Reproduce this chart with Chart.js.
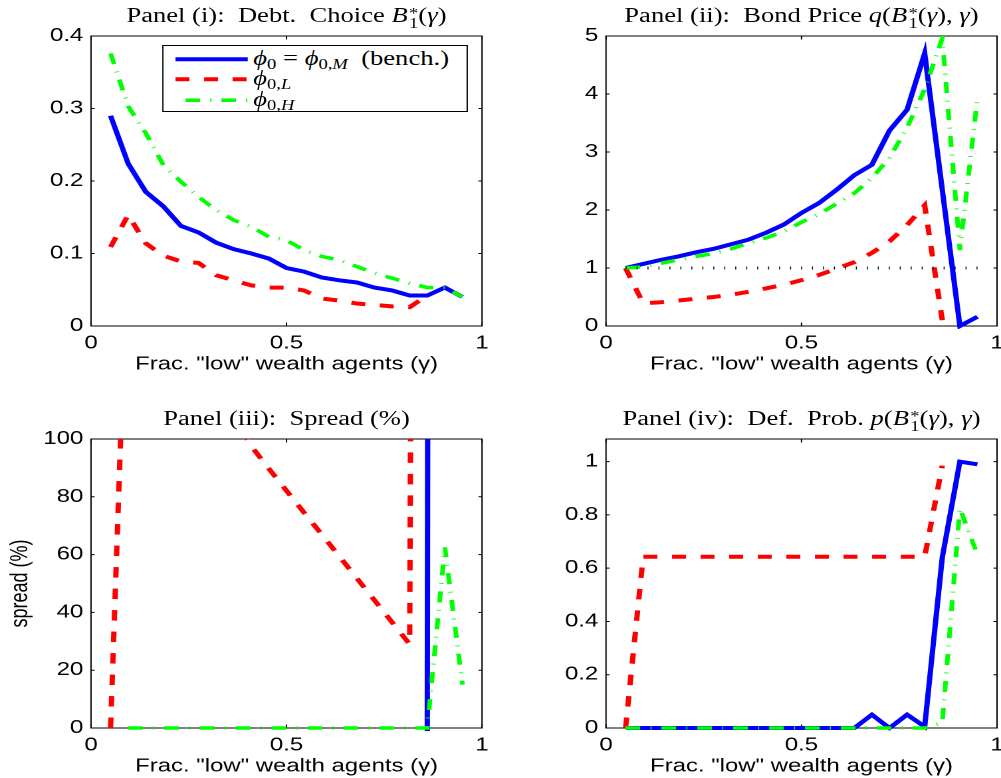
<!DOCTYPE html>
<html>
<head>
<meta charset="utf-8">
<script src="https://cdn.jsdelivr.net/npm/chart.js@4.4.1/dist/chart.umd.min.js"></script>
<style>
  html, body { margin: 0; padding: 0; background: #fff; overflow: hidden; }
  #wrap { position: absolute; left: 0; top: 0; width: 753px; height: 778px;
          transform: scaleX(1.329349); transform-origin: 0 0; }
  #wrap canvas { position: absolute; left: 0; top: 0; }
  .ttl { position: absolute; font-family: "Liberation Serif", serif; font-size: 20px;
         line-height: 20px; white-space: nowrap; text-align: center; color: #000; }
  .st { display: inline-block; font-size: 14px; line-height: 10px; vertical-align: -6px;
        text-align: left; margin-left: 1px; }
  .st span { display: block; }
  .sb { font-size: 14px; vertical-align: -4px; }
  #legend { position: absolute; box-sizing: border-box; border: 1px solid #000; background: #fff; }
  #legend svg { position: absolute; left: 0; top: 0; }
  .row { position: absolute; font-family: "Liberation Serif", serif; font-size: 20px;
         line-height: 20px; white-space: nowrap; color: #000; }
</style>
</head>
<body>
<div id="wrap">
  <canvas id="c1" width="753" height="778"></canvas>
  <canvas id="c2" width="753" height="778"></canvas>
  <canvas id="c3" width="753" height="778"></canvas>
  <canvas id="c4" width="753" height="778"></canvas>
  <div class="ttl" id="t1">Panel (i):&nbsp; Debt.&nbsp; Choice <i>B</i><span class="st"><span>*</span><span>1</span></span>(<i>γ</i>)</div>
  <div class="ttl" id="t2">Panel (ii):&nbsp; Bond Price <i>q</i>(<i>B</i><span class="st"><span>*</span><span>1</span></span>(<i>γ</i>), <i>γ</i>)</div>
  <div class="ttl" id="t3">Panel (iii):&nbsp; Spread (%)</div>
  <div class="ttl" id="t4">Panel (iv):&nbsp; Def.&nbsp; Prob. <i>p</i>(<i>B</i><span class="st"><span>*</span><span>1</span></span>(<i>γ</i>), <i>γ</i>)</div>
  <div id="legend">
    <svg id="lsvg" width="230" height="66"></svg>
    <div class="row" id="r1"><i>ϕ</i><span class="sb">0</span> = <i>ϕ</i><span class="sb">0,<i>M</i></span>&nbsp; (bench.)</div>
    <div class="row" id="r2"><i>ϕ</i><span class="sb">0,<i>L</i></span></div>
    <div class="row" id="r3"><i>ϕ</i><span class="sb">0,<i>H</i></span></div>
  </div>
</div>
<script>
// ---- data ----
const gamma = [0.05, 0.095, 0.14, 0.185, 0.23, 0.275, 0.32, 0.365, 0.41, 0.455, 0.5,
               0.545, 0.59, 0.635, 0.68, 0.725, 0.77, 0.815, 0.86, 0.905, 0.95];

// Panel (i): debt choice
const debtBench = [0.290, 0.224, 0.185, 0.165, 0.138, 0.129, 0.115, 0.106, 0.100, 0.093, 0.080,
                   0.075, 0.067, 0.063, 0.060, 0.053, 0.049, 0.042, 0.042, 0.053, 0.040];
const debtLow   = [0.109, 0.153, 0.114, 0.097, 0.089, 0.087, 0.070, 0.063, 0.056, 0.053, 0.053,
                   0.049, 0.038, 0.035, 0.031, 0.029, 0.027, 0.026, 0.042, null, null];
const debtHigh  = [0.376, 0.303, 0.266, 0.222, 0.199, 0.178, 0.160, 0.146, 0.137, 0.123, 0.118,
                   0.105, 0.096, 0.091, 0.082, 0.073, 0.066, 0.059, 0.053, 0.053, 0.040];

// Panel (ii): bond price
const priceBench = [1.00, 1.07, 1.14, 1.20, 1.27, 1.33, 1.41, 1.49, 1.61, 1.75, 1.95,
                    2.12, 2.35, 2.60, 2.78, 3.37, 3.73, 4.70, 2.35, 0.00, 0.16];
const priceLow   = [1.00, 0.39, 0.41, 0.44, 0.47, 0.50, 0.54, 0.59, 0.65, 0.71, 0.79,
                    0.88, 0.99, 1.10, 1.26, 1.46, 1.74, 2.08, 0.10, null, null];
const priceHigh  = [1.00, 1.02, 1.08, 1.14, 1.20, 1.25, 1.33, 1.43, 1.52, 1.63, 1.79,
                    1.93, 2.11, 2.29, 2.55, 2.90, 3.42, 4.08, 4.96, 1.31, 3.93];
const riskFree   = [1, 1, 1, 1, 1, 1, 1, 1, 1, 1, 1, 1, 1, 1, 1, 1, 1, 1, 1, 1, 1];

// Panel (iii): spread (%), values outside 0..100 are cut by the axes
const spreadBench = [-10, -15, -20, -25, -30, -35, -40, -45, -50, -55, -60,
                     -65, -70, -75, -80, -85, -90, -95, -5, 5000, 600];
const spreadLow   = [0, 175, 160, 148, 137, 128, 118, 108, 97.5, 89.7, 82.1,
                     74.5, 67, 59.4, 51.8, 44.2, 36.6, 29, 1500, null, null];
const spreadHigh  = [null, 0, 0, 0, 0, 0, 0, 0, 0, 0, 0,
                     0, 0, 0, 0, 0, 0, 0, 0, 62.5, 15];

// Panel (iv): default probability
const probBench = [0, 0, 0, 0, 0, 0, 0, 0, 0, 0, 0,
                   0, 0, 0, 0.05, 0, 0.05, 0.005, 0.64, 1.0, 0.99];
const probLow   = [0, 0.643, 0.643, 0.643, 0.643, 0.643, 0.643, 0.643, 0.643, 0.643, 0.643,
                   0.643, 0.643, 0.643, 0.643, 0.643, 0.643, 0.643, 0.985, null, null];
const probHigh  = [0, 0, 0, 0, 0, 0, 0, 0, 0, 0, 0,
                   0, 0, 0, 0, 0, 0, 0, 0.02, 0.825, 0.65];

// axes
const xTicks = [0, 0.5, 1];
const debtTicks = [0, 0.1, 0.2, 0.3, 0.4];
const priceTicks = [0, 1, 2, 3, 4, 5];
const spreadTicks = [0, 20, 40, 60, 80, 100];
const probTicks = [0, 0.2, 0.4, 0.6, 0.8, 1];
const debtRange = [0, 0.4];
const priceRange = [0, 5];
const spreadRange = [0, 100];
const probRange = [0, 1.085];
const xLabel = 'Frac. "low" wealth agents (γ)';

// ---- styles / layout ----
const S = 1001 / 753;          // whole figure is stretched horizontally
const px = v => v / S;
const W = 753, H = 778;
const XH = 50;                 // height of x axis band (tick labels + title)

const styles = {
  bench: { borderColor: '#0000ff', borderWidth: 4, borderDash: [], order: 4 },
  low:   { borderColor: '#ff0000', borderWidth: 4, borderDash: [10.5, 11], order: 3 },
  high:  { borderColor: '#00ff00', borderWidth: 3.5, borderDash: [11, 7.7, 0.8, 7.5], order: 2 },
  ref:   { borderColor: '#000000', borderWidth: 3, borderDash: [0.75, 7.5], order: 1 },
};

const sans = { family: '"Liberation Sans", Arial, sans-serif', size: 18 };

// axes box + inward tick marks, drawn under the lines like MATLAB
const frame = {
  id: 'frame',
  beforeDatasetsDraw(chart) {
    const { ctx, chartArea: a, scales: { x, y } } = chart;
    ctx.save();
    ctx.strokeStyle = '#000';
    ctx.lineWidth = 1;
    ctx.strokeRect(a.left, a.top, a.right - a.left, a.bottom - a.top);
    ctx.beginPath();
    x.ticks.forEach(t => {
      const p = x.getPixelForValue(t.value);
      ctx.moveTo(p, a.bottom); ctx.lineTo(p, a.bottom - 3.5);
      ctx.moveTo(p, a.top); ctx.lineTo(p, a.top + 3.5);
    });
    y.ticks.forEach(t => {
      const p = y.getPixelForValue(t.value);
      ctx.moveTo(a.left, p); ctx.lineTo(a.left + 2.7, p);
      ctx.moveTo(a.right, p); ctx.lineTo(a.right - 2.7, p);
    });
    ctx.stroke();
    ctx.restore();
  }
};

function pts(vals) {
  return gamma.map((g, i) => ({ x: g, y: vals[i] }));
}

function panel(id, box, range, yTicks, series, yTitle) {
  const datasets = series.map(([vals, st]) => Object.assign({
    data: pts(vals), pointRadius: 0, tension: 0, fill: false,
    borderCapStyle: 'butt', clip: { left: 3, right: 3, top: 0, bottom: 3 },
  }, st));
  new Chart(document.getElementById(id), {
    type: 'line',
    data: { datasets },
    options: {
      responsive: false,
      animation: false,
      devicePixelRatio: 2,
      events: [],
      layout: { padding: { left: 0, right: W - px(box.r), top: box.t, bottom: H - box.b - XH } },
      plugins: { legend: { display: false }, tooltip: { enabled: false } },
      scales: {
        x: {
          type: 'linear', min: 0, max: 1,
          grid: { display: false, drawTicks: false },
          border: { display: false },
          afterBuildTicks: s => { s.ticks = xTicks.map(v => ({ value: v })); },
          afterFit: s => { s.height = XH; s.paddingLeft = 0; s.paddingRight = 0; },
          ticks: { autoSkip: false, maxRotation: 0, padding: 6.5, color: '#000', font: sans,
                   callback: v => String(v) },
          title: { display: true, text: xLabel, color: '#000', font: sans,
                   padding: { top: 0, bottom: 0.6 } },
        },
        y: {
          type: 'linear', min: range[0], max: range[1],
          grid: { display: false, drawTicks: false },
          border: { display: false },
          afterBuildTicks: s => { s.ticks = yTicks.map(v => ({ value: v })); },
          afterFit: s => { s.width = px(box.l); s.paddingTop = 0; s.paddingBottom = 0; },
          ticks: { autoSkip: false, padding: 5.8, color: '#000', font: sans,
                   callback: v => String(v) },
          title: { display: !!yTitle, text: yTitle || '', color: '#000', font: sans,
                   padding: { top: 4.6, bottom: 0 } },
        },
      },
    },
    plugins: [frame],
  });
}

const boxes = {
  c1: { l: 91, r: 482, t: 36, b: 326 },
  c2: { l: 606, r: 997, t: 36, b: 326 },
  c3: { l: 91, r: 482, t: 439, b: 728 },
  c4: { l: 606, r: 997, t: 439, b: 728 },
};

panel('c1', boxes.c1, debtRange, debtTicks,
      [[debtBench, styles.bench], [debtLow, styles.low], [debtHigh, styles.high]]);
panel('c2', boxes.c2, priceRange, priceTicks,
      [[priceBench, styles.bench], [priceLow, styles.low], [priceHigh, styles.high], [riskFree, styles.ref]]);
panel('c3', boxes.c3, spreadRange, spreadTicks,
      [[spreadBench, styles.bench], [spreadLow, styles.low], [spreadHigh, styles.high]], 'spread (%)');
panel('c4', boxes.c4, probRange, probTicks,
      [[probBench, styles.bench], [probLow, styles.low], [probHigh, styles.high]]);

// titles, centred over each axes box
function placeTitle(id, box, baseline) {
  const el = document.getElementById(id);
  el.style.left = px(box.l) + 'px';
  el.style.width = (px(box.r) - px(box.l)) + 'px';
  el.style.top = (baseline - 16.75) + 'px';
}
placeTitle('t1', boxes.c1, 21.7);
placeTitle('t2', boxes.c2, 21.7);
placeTitle('t3', boxes.c3, 424.3);
placeTitle('t4', boxes.c4, 424.3);

// legend of panel (i)
const lg = document.getElementById('legend');
lg.style.left = px(161.7) + 'px';
lg.style.top = '44.7px';
lg.style.width = px(468.3 - 161.7) + 'px';
lg.style.height = '67px';
const svg = document.getElementById('lsvg');
const rows = [[styles.bench, 13.3, 'r1', 18.8], [styles.low, 33.3, 'r2', 38.8], [styles.high, 54.3, 'r3', 59.8]];
rows.forEach(([st, y, rid, base]) => {
  const ln = document.createElementNS('http://www.w3.org/2000/svg', 'line');
  ln.setAttribute('x1', 9); ln.setAttribute('x2', 63.4);
  ln.setAttribute('y1', y); ln.setAttribute('y2', y);
  ln.setAttribute('stroke', st.borderColor);
  ln.setAttribute('stroke-width', st.borderWidth);
  if (st.borderDash.length) ln.setAttribute('stroke-dasharray', st.borderDash.join(' '));
  if (st === styles.high) ln.setAttribute('stroke-dashoffset', 19.5);
  svg.appendChild(ln);
  const r = document.getElementById(rid);
  r.style.left = '67.9px';
  r.style.top = (base - 16.75) + 'px';
});
</script>
</body>
</html>
